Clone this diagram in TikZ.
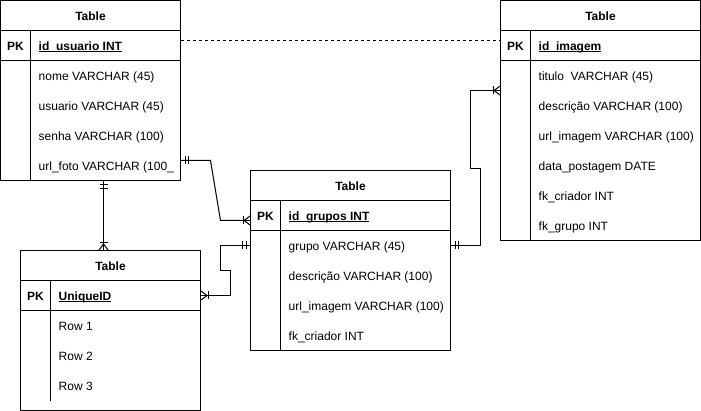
\documentclass[tikz,border=0pt]{standalone}
\usepackage{fontspec}
\setmainfont{Liberation Sans}
\usetikzlibrary{
  positioning,
  calc,
  decorations.markings,
}
\definecolor{border}{HTML}{000000}
\definecolor{fillMain}{HTML}{FFFFFF}
\tikzset{
  tablebox/.style={
    rectangle, draw=border, fill=fillMain, line width=1pt, inner sep=0pt,
  },
  rowline/.style={draw=border, line width=1pt},
  titletxt/.style={font=\fontsize{12}{14}\selectfont\bfseries, anchor=base, inner sep=0pt, yshift=-5pt},
  pktxt/.style={font=\fontsize{12}{14}\selectfont\bfseries, anchor=base, inner sep=0pt, yshift=-5pt},
  keytxt/.style={font=\fontsize{12}{14}\selectfont\bfseries, anchor=base west, inner sep=0pt, yshift=-5pt},
  fieldtxt/.style={font=\fontsize{12}{14}\selectfont, anchor=base west, inner sep=0pt, yshift=-5pt},
  relline/.style={draw=border, line width=1pt},
  dashline/.style={relline, dash pattern=on 3pt off 3pt},
  onestart/.style={postaction={decorate, decoration={markings,
    mark=at position 4pt with {\draw[relline] (0,-4pt) -- (0,4pt);},
    mark=at position 7.5pt with {\draw[relline] (0,-4pt) -- (0,4pt);}}}},
  manyend/.style={postaction={decorate, decoration={markings,
    mark=at position 1 with {\draw[relline] (-7pt,-4pt) -- (-7pt,4pt);
      \draw[relline] (0,-4.5pt) -- (-6pt,0) -- (0,4.5pt);}}}},
}
\newcommand{\keyline}[1]{\leavevmode\rlap{\rule[-1.8pt]{\widthof{#1}}{0.8pt}}#1}
\usepackage{calc}

\begin{document}
\begin{tikzpicture}[x=1pt, y=-1pt]

  \useasboundingbox[fill=white] (-0.5,-0.5) rectangle (700.5,410.5);

  % usuario table
  \node[tablebox, minimum width=180pt, minimum height=180pt] (usuario) at (90,90) {};
  \draw[rowline] (0,30) -- (180,30) (0,60) -- (180,60) (30,30) -- (30,180);
  \node[titletxt] (usuario-t) at (90,15) {Table};
  \node[pktxt] (usuario-pk) at (15,45) {PK};
  \node[keytxt] (usuario-k) at (38,45) {\keyline{id\_usuario INT}};
  \node[fieldtxt] (usuario-f1) at (38,75) {nome VARCHAR (45)};
  \node[fieldtxt] (usuario-f2) at (38,105) {usuario VARCHAR (45)};
  \node[fieldtxt] (usuario-f3) at (38,135) {senha VARCHAR (100)};
  \node[fieldtxt] (usuario-f4) at (38,165) {url\_foto VARCHAR (100\_};

  % imagem table
  \node[tablebox, minimum width=200pt, minimum height=240pt] (imagem) at (600,120) {};
  \draw[rowline] (500,30) -- (700,30) (500,60) -- (700,60) (530,30) -- (530,240);
  \node[titletxt] (imagem-t) at (600,15) {Table};
  \node[pktxt] (imagem-pk) at (515,45) {PK};
  \node[keytxt] (imagem-k) at (538,45) {\keyline{id\_imagem}};
  \node[fieldtxt] (imagem-f1) at (538,75) {titulo\ \ VARCHAR (45)};
  \node[fieldtxt] (imagem-f2) at (538,105) {descrição VARCHAR (100)};
  \node[fieldtxt] (imagem-f3) at (538,135) {url\_imagem VARCHAR (100)};
  \node[fieldtxt] (imagem-f4) at (538,165) {data\_postagem DATE};
  \node[fieldtxt] (imagem-f5) at (538,195) {fk\_criador INT};
  \node[fieldtxt] (imagem-f6) at (538,225) {fk\_grupo INT};

  % grupos table
  \node[tablebox, minimum width=200pt, minimum height=180pt] (grupos) at (350,260) {};
  \draw[rowline] (250,200) -- (450,200) (250,230) -- (450,230) (280,200) -- (280,350);
  \node[titletxt] (grupos-t) at (350,185) {Table};
  \node[pktxt] (grupos-pk) at (265,215) {PK};
  \node[keytxt] (grupos-k) at (288,215) {\keyline{id\_grupos INT}};
  \node[fieldtxt] (grupos-f1) at (288,245) {grupo VARCHAR (45)};
  \node[fieldtxt] (grupos-f2) at (288,275) {descrição VARCHAR (100)};
  \node[fieldtxt] (grupos-f3) at (288,305) {url\_imagem VARCHAR (100)};
  \node[fieldtxt] (grupos-f4) at (288,335) {fk\_criador INT};

  % unique table
  \node[tablebox, minimum width=180pt, minimum height=160pt] (unique) at (110,330) {};
  \draw[rowline] (20,280) -- (200,280) (20,310) -- (200,310) (50,280) -- (50,400);
  \node[titletxt] (unique-t) at (110,265) {Table};
  \node[pktxt] (unique-pk) at (35,295) {PK};
  \node[keytxt] (unique-k) at (58,295) {\keyline{UniqueID}};
  \node[fieldtxt] (unique-f1) at (58,325) {Row 1};
  \node[fieldtxt] (unique-f2) at (58,355) {Row 2};
  \node[fieldtxt] (unique-f3) at (58,385) {Row 3};

  % relations
  \draw[dashline] (usuario.east |- 0,40) -- (imagem.west |- 0,40);
  \draw[relline, onestart, manyend] (usuario.east |- 0,160) -- (210,160) -- (220,220) -- (grupos.west |- 0,220);
  \draw[relline, onestart, manyend] (usuario.south -| 103,0) -- (unique.north -| 103,0);
  \draw[relline, onestart, manyend] (grupos.west |- 0,245) -- (220,245) -- (220,270) -- (230,270) -- (230,295) -- (unique.east |- 0,295);
  \draw[relline, onestart, manyend] (grupos.east |- 0,245) -- (480,245) -- (480,168) -- (470,168) -- (470,90) -- (imagem.west |- 0,90);

\end{tikzpicture}
\end{document}
